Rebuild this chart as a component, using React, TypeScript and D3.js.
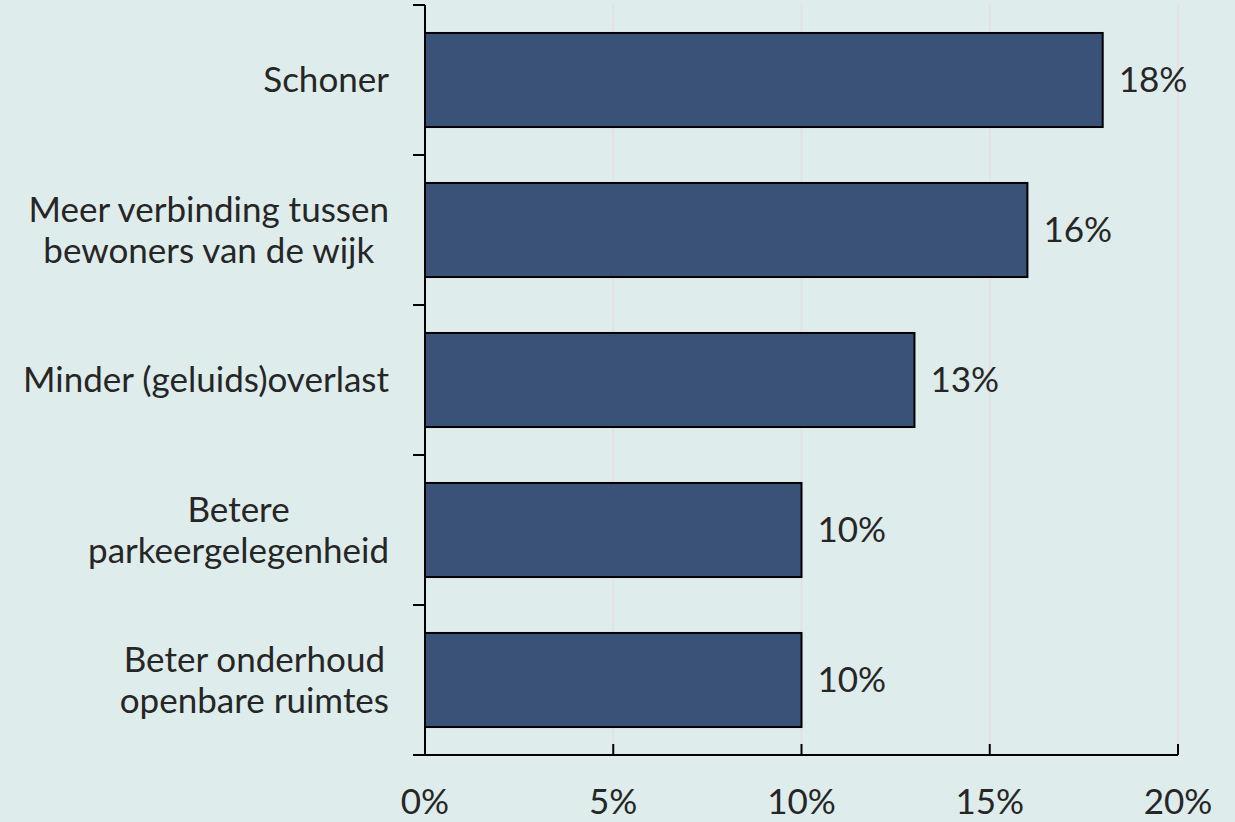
import { useEffect, useRef } from "react";
import * as d3 from "d3";

const WIDTH = 1235;
const HEIGHT = 822;
const MARGIN = { top: 5, right: 57, bottom: 67, left: 425 };

const categories = [
  ["Schoner"],
  ["Meer verbinding tussen", "bewoners van de wijk"],
  ["Minder (geluids)overlast"],
  ["Betere", "parkeergelegenheid"],
  ["Beter onderhoud", "openbare ruimtes"],
];
const values = [18, 16, 13, 10, 10];
const xTicks = [0, 5, 10, 15, 20];

const FONT = "Lato, 'Open Sans', sans-serif";
const FONT_SIZE = 35;
const TEXT = "#262626";

export default function App() {
  const svgRef = useRef<SVGSVGElement>(null);

  useEffect(() => {
    const svg = d3.select(svgRef.current);
    svg.selectAll("*").remove();

    const innerW = WIDTH - MARGIN.left - MARGIN.right;
    const innerH = HEIGHT - MARGIN.top - MARGIN.bottom;
    const left = MARGIN.left;
    const bottom = MARGIN.top + innerH;

    const x = d3.scaleLinear().domain([0, 20]).range([left, left + innerW]);
    const y = d3
      .scaleBand<number>()
      .domain(d3.range(categories.length))
      .range([MARGIN.top, bottom])
      .paddingInner(0.373)
      .paddingOuter(0.1865);

    svg.append("rect").attr("width", WIDTH).attr("height", HEIGHT).attr("fill", "#deecec");

    // grid
    xTicks.slice(1).forEach((t) => {
      svg
        .append("line")
        .attr("x1", x(t))
        .attr("x2", x(t))
        .attr("y1", MARGIN.top)
        .attr("y2", bottom)
        .attr("stroke", "#e8dede")
        .attr("stroke-width", 1.5);
    });

    // bars
    values.forEach((v, i) => {
      svg
        .append("rect")
        .attr("x", x(0))
        .attr("y", y(i)!)
        .attr("width", x(v) - x(0))
        .attr("height", y.bandwidth())
        .attr("fill", "#3a5278")
        .attr("stroke", "#000")
        .attr("stroke-width", 2);

      svg
        .append("text")
        .attr("x", x(v) + 16)
        .attr("y", y(i)! + y.bandwidth() / 2)
        .attr("dy", "0.35em")
        .attr("font-family", FONT)
        .attr("font-size", FONT_SIZE)
        .attr("fill", TEXT)
        .text(v + "%");
    });

    // left axis
    const step = innerH / categories.length;
    svg
      .append("line")
      .attr("x1", left)
      .attr("x2", left)
      .attr("y1", MARGIN.top)
      .attr("y2", bottom)
      .attr("stroke", "#000")
      .attr("stroke-width", 2);
    d3.range(categories.length + 1).forEach((k) => {
      const ty = MARGIN.top + k * step;
      svg
        .append("line")
        .attr("x1", left - 12)
        .attr("x2", left)
        .attr("y1", ty)
        .attr("y2", ty)
        .attr("stroke", "#000")
        .attr("stroke-width", 2);
    });

    // bottom axis
    svg
      .append("line")
      .attr("x1", left - 12)
      .attr("x2", x(20))
      .attr("y1", bottom)
      .attr("y2", bottom)
      .attr("stroke", "#000")
      .attr("stroke-width", 2);
    xTicks.forEach((t) => {
      svg
        .append("line")
        .attr("x1", x(t))
        .attr("x2", x(t))
        .attr("y1", bottom - 11)
        .attr("y2", bottom)
        .attr("stroke", "#000")
        .attr("stroke-width", 2);
      svg
        .append("text")
        .attr("x", x(t))
        .attr("y", bottom + 47)
        .attr("dy", "0.35em")
        .attr("text-anchor", "middle")
        .attr("font-family", FONT)
        .attr("font-size", FONT_SIZE)
        .attr("fill", TEXT)
        .text(t + "%");
    });

    // category labels, lines centred on each other, block right-aligned
    const labelRight = 389;
    const lineH = 41;
    categories.forEach((lines, i) => {
      const g = svg.append("g");
      const cy = y(i)! + y.bandwidth() / 2;
      const texts = lines.map((line, j) =>
        g
          .append("text")
          .attr("y", cy + (j - (lines.length - 1) / 2) * lineH)
          .attr("dy", "0.35em")
          .attr("text-anchor", "middle")
          .attr("font-family", FONT)
          .attr("font-size", FONT_SIZE)
          .attr("fill", TEXT)
          .text(line)
      );
      const maxW = d3.max(texts, (t) => (t.node() as SVGTextElement).getComputedTextLength()) ?? 0;
      texts.forEach((t) => t.attr("x", labelRight - maxW / 2));
    });
  }, []);

  return (
    <div style={{ position: "absolute", left: 0, top: 0 }}>
      <svg ref={svgRef} width={WIDTH} height={HEIGHT} style={{ display: "block" }} />
    </div>
  );
}
